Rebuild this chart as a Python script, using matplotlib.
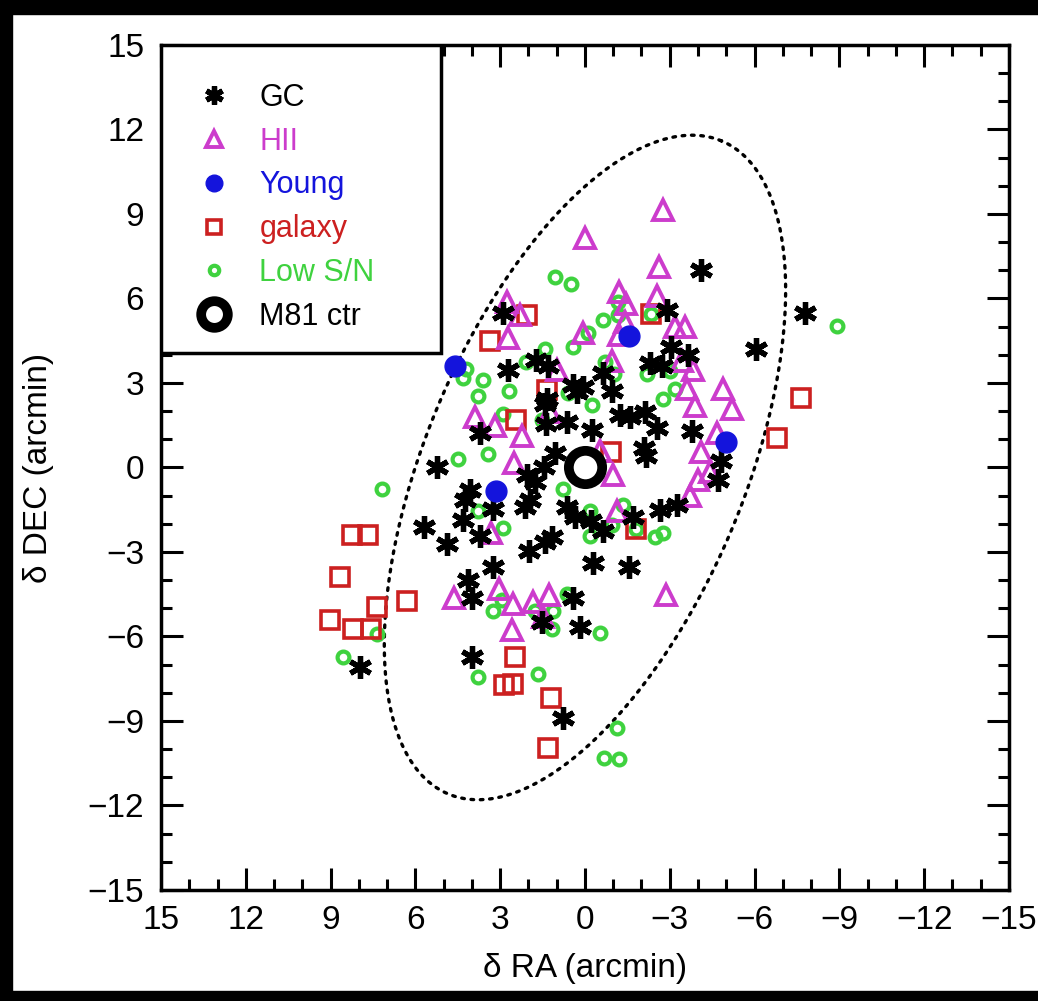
import numpy as np
import matplotlib.pyplot as plt
from matplotlib.patches import Rectangle
from matplotlib.ticker import MultipleLocator

plt.rcParams['font.family'] = ['Liberation Sans', 'DejaVu Sans']

# globular clusters
gc_ra = [-4.1, -2.91, -7.78, -6.04, -3.03, -3.65, -2.3, -2.71, -0.65, 0.08,
         -0.94, -1.24, -1.59, -2.12, -2.54, -0.24, -3.77, -2.1, -2.15, 2.89,
         1.73, 1.3, 2.71, 0.41, 0.29, 1.36, 1.38, 0.65, 3.72, 5.25,
         4.06, 4.24, 3.24, 4.3, 5.7, 3.71, 4.89, 3.24, 4.13, 4.01,
         2.04, 1.77, 1.45, 1.05, 1.95, 2.12, 1.98, 1.41, 1.18, 0.65,
         0.35, -0.2, -0.3, 0.44, -4.83, -4.72, -3.24, -2.65, -1.69, -0.65,
         -1.57, 0.19, 1.53, 3.99, 7.96, 0.79, 1.41]
gc_dec = [7.0, 5.59, 5.47, 4.2, 4.28, 3.99, 3.71, 3.59, 3.36, 2.84,
          2.72, 1.85, 1.79, 1.97, 1.4, 1.34, 1.28, 0.7, 0.4, 5.5,
          3.83, 3.59, 3.45, 2.92, 2.68, 2.44, 1.53, 1.61, 1.22, 0.0,
          -0.8, -1.15, -1.47, -1.86, -2.11, -2.42, -2.73, -3.55, -4.0, -4.64,
          -0.28, -0.52, 0.0, 0.52, -1.15, -1.41, -2.98, -2.66, -2.48, -1.41,
          -1.77, -1.9, -3.4, -4.64, 0.22, -0.46, -1.35, -1.51, -1.77, -2.24,
          -3.52, -5.67, -5.5, -6.74, -7.08, -8.88, 2.27]

# HII regions
hii_ra = [-2.77, 0.0, -2.62, -1.21, -2.54, -1.45, -3.18, -3.54, -1.41, 0.06,
          -1.21, -0.97, -3.42, -3.83, -3.62, -4.89, -3.91, -5.19, -4.66, -4.09,
          2.77, 2.3, 2.71, 0.98, 3.89, 3.18, 2.24, 1.24, 2.5, 3.33,
          4.62, 3.03, 2.56, 1.83, 1.26, 1.47, 2.59, -0.53, -1.0, -4.42,
          -4.01, -3.71, -1.12, -2.87]
hii_dec = [9.15, 8.14, 7.1, 6.24, 6.1, 5.8, 5.0, 5.0, 5.15, 4.76,
           4.72, 3.78, 3.78, 3.45, 2.77, 2.77, 2.17, 2.09, 1.22, 0.55,
           5.88, 5.41, 4.6, 3.45, 1.8, 1.46, 1.1, 1.97, 0.17, -2.34,
           -4.62, -4.32, -4.83, -4.79, -4.52, -5.3, -5.78, 0.6, -0.25, -0.17,
           -0.46, -1.03, -1.55, -4.52]

# young clusters
young_ra = [4.6, -1.56, -5.0, 3.15]
young_dec = [3.6, 4.66, 0.9, -0.82]

# background galaxies
gal_ra = [3.36, 2.05, -2.33, 1.36, 2.45, -0.91, -1.79, -7.64, -6.79,
          8.23, 7.69, 8.67, 6.31, 7.37, 9.02, 8.22, 7.58,
          2.48, 2.87, 2.54, 1.21, 1.3]
gal_dec = [4.5, 5.4, 5.44, 2.74, 1.7, 0.54, -2.2, 2.45, 1.04,
           -2.38, -2.41, -3.9, -4.73, -4.97, -5.42, -5.74, -5.74,
           -6.73, -7.72, -7.67, -8.17, -9.95]

# low S/N spectra
low_ra = [1.06, 0.51, -0.12, 1.41, 0.44, 2.09, 4.22, 4.3, 3.62, 3.8,
          2.68, 2.89, -0.24, 1.53, 0.59, -0.65, -1.18, -1.18, -0.71, -1.04,
          -2.18, -3.0, -3.18, -2.77, -8.9, 4.48, 3.42, 0.77, 3.77, 2.91,
          -0.18, -0.18, 0.65, 7.19, 3.24, 2.95, 1.12, 1.77, 1.16, -0.53,
          7.37, 8.55, 3.8, 1.67, -0.94, -1.35, -2.48, -2.77, -1.13, -0.67,
          -1.2, -2.33, -1.79]
low_dec = [6.77, 6.5, 4.78, 4.19, 4.26, 3.75, 3.51, 3.18, 3.1, 2.53,
           2.72, 1.91, 2.2, 1.7, 2.66, 5.23, 5.41, 5.88, 3.75, 3.33,
           3.33, 3.43, 2.8, 2.44, 5.03, 0.31, 0.49, -0.76, -1.53, -2.15,
           -1.53, -2.42, -4.5, -0.76, -5.09, -4.71, -5.09, -5.09, -5.75, -5.86,
           -5.92, -6.73, -7.44, -7.32, -2.06, -1.35, -2.46, -2.34, -9.25, -10.3,
           -10.35, 5.44, -2.2]

# M81 centre and D25-like ellipse
ctr_ra, ctr_dec = [0.0], [0.0]
ell_a, ell_b, ell_tilt = 12.56, 5.64, 22.6   # semi-axes (arcmin), tilt from N towards -RA (deg)

ticks = [15, 12, 9, 6, 3, 0, -3, -6, -9, -12, -15]

fig = plt.figure(figsize=(10.38, 10.01), dpi=100)
ax = fig.add_axes([0.1551, 0.1109, 0.8169, 0.8442])

ax.plot(low_ra, low_dec, 'o', ms=8.5, mfc='none', mec='#3fd23f', mew=3, ls='none',
        label='Low S/N', zorder=2)
ax.plot(gal_ra, gal_dec, 's', ms=12.5, mfc='none', mec='#cc2020', mew=2.6, ls='none',
        label='galaxy', zorder=3)
ax.plot(hii_ra, hii_dec, '^', ms=14, mfc='none', mec='#cc3ccc', mew=2.8, ls='none',
        label='HII', zorder=3)
ax.plot(gc_ra, gc_dec, marker=(6, 2, 0), ms=16.5, mec='black', mew=3.8, ls='none',
        label='GC', zorder=4)
ax.plot(young_ra, young_dec, 'o', ms=15, mfc='#1414dc', mec='#1414dc', ls='none',
        label='Young', zorder=5)
ax.plot(ctr_ra, ctr_dec, 'o', ms=24, mfc='white', mec='black', mew=7, ls='none',
        label='M81 ctr', zorder=6)

t = np.linspace(0, 2 * np.pi, 400)
th = np.deg2rad(ell_tilt)
u, v = ell_a * np.cos(t), ell_b * np.sin(t)
ax.plot(-u * np.sin(th) + v * np.cos(th), u * np.cos(th) + v * np.sin(th),
        color='black', lw=2.4, ls=(0, (0.8, 2.0)), dash_capstyle='round', zorder=1)

ax.set_xlim(15, -15)
ax.set_ylim(-15, 15)
ax.set_xticks(ticks)
ax.set_yticks(ticks)
ax.xaxis.set_minor_locator(MultipleLocator(1))
ax.yaxis.set_minor_locator(MultipleLocator(1))
ax.tick_params(which='both', direction='in', top=True, right=True, width=2.2, labelsize=24)
ax.tick_params(which='major', length=16)
ax.tick_params(which='minor', length=8)
ax.tick_params(axis='x', pad=11)
ax.tick_params(axis='y', pad=12)
for s in ax.spines.values():
    s.set_linewidth(2.5)
ax.set_xlabel('δ RA (arcmin)', fontsize=24, labelpad=12)
ax.set_ylabel('δ DEC (arcmin)', fontsize=24, labelpad=24)

# legend box drawn as its own frame
ax.add_patch(Rectangle((0, 0.6355), 0.330, 0.3645, transform=ax.transAxes,
                       facecolor='white', edgecolor='black', lw=2.5, zorder=8))
h, l = ax.get_legend_handles_labels()
order = ['GC', 'HII', 'Young', 'galaxy', 'Low S/N', 'M81 ctr']
hh = [h[l.index(k)] for k in order]
leg = ax.legend(hh, order, loc='upper left', bbox_to_anchor=(0.035, 0.955),
                fontsize=22, frameon=False, borderaxespad=0, borderpad=0,
                labelspacing=0.45, handlelength=1.5, handletextpad=0.75,
                markerscale=0.8)
leg.set_zorder(9)
cols = ['black', '#cc3ccc', '#1414dc', '#cc2020', '#3fd23f', 'black']
for txt, c in zip(leg.get_texts(), cols):
    txt.set_color(c)

# black border around the picture
W, H = 1038, 1001
for x0, y0, w, hgt in [(0, 0, 12 / W, 1), (0, 1 - 14 / H, 1, 14 / H), (0, 0, 1, 10 / H)]:
    fig.patches.append(Rectangle((x0, y0), w, hgt, transform=fig.transFigure,
                                 color='black', zorder=0))

fig.savefig('out.png', dpi=100)
